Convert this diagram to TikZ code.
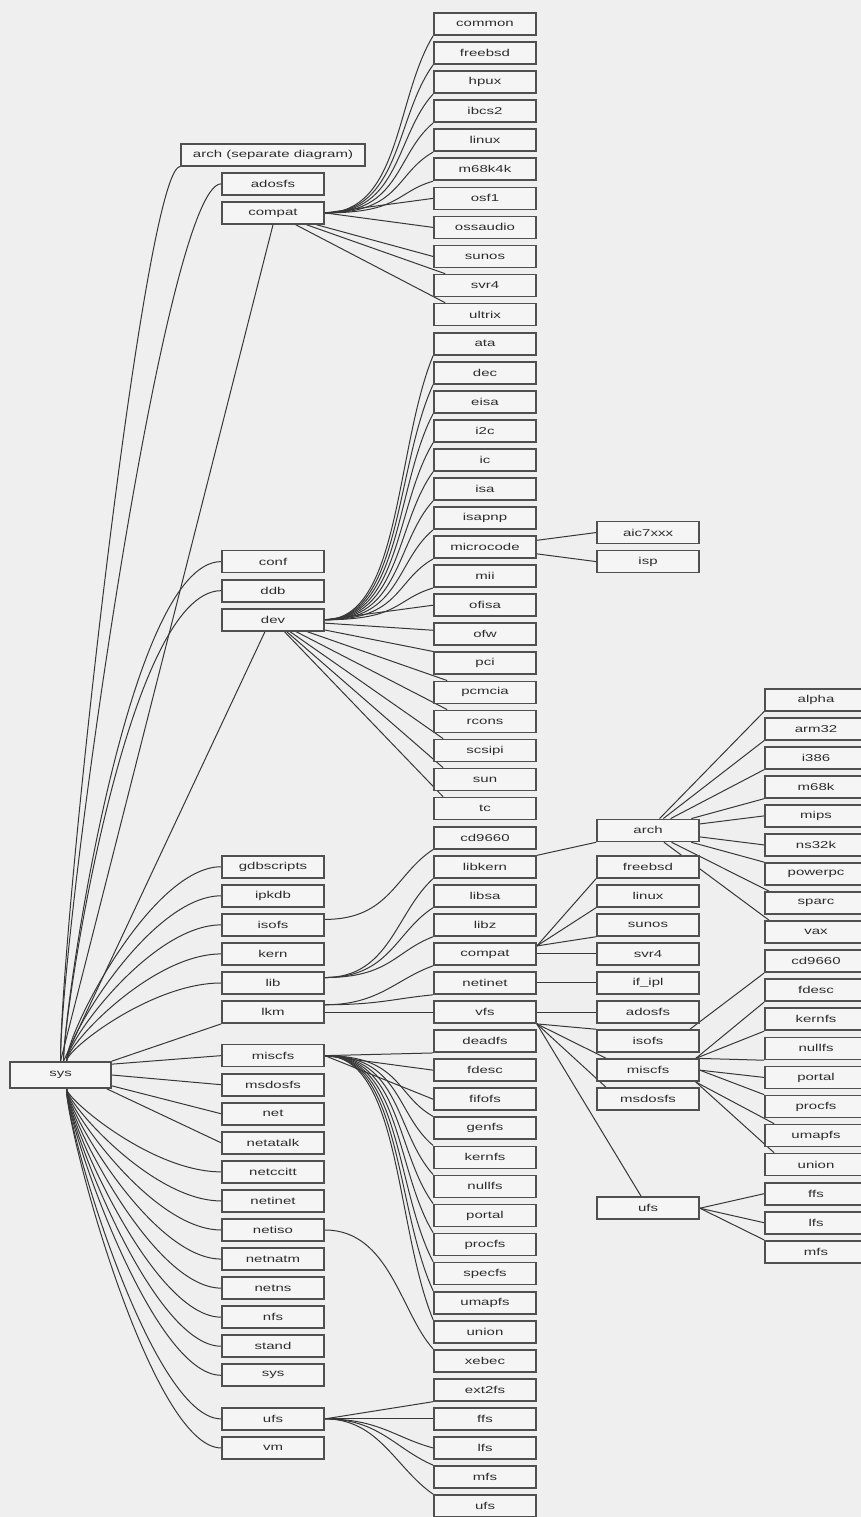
\documentclass[tikz,border=0pt]{standalone}
\usepackage{fontspec}
\newfontfamily\boxfont{Liberation Sans}[FakeStretch=1.5]
\usetikzlibrary{calc}
\pgfdeclarelayer{bg}
\pgfdeclarelayer{edges}
\pgfsetlayers{bg,edges,main}
\definecolor{bgc}{RGB}{239,239,239}
\definecolor{boxc}{RGB}{245,245,245}
\definecolor{linec}{RGB}{55,55,55}
\definecolor{bordc}{RGB}{80,80,80}
\definecolor{txtc}{RGB}{45,45,45}
% S-shaped connector: leaves horizontally, arrives along the chord
\newcommand\sCurveEdge[4]{\draw[edge] (#1) .. controls ($(#1)!#3!(#1 -| #2)$) and ($(#2)!#4!(#1)$) .. (#2);}
% corner-shaped connector: leaves vertically, arrives horizontally
\newcommand\cCurveEdge[4]{\draw[edge] (#1) .. controls ($(#1)!#3!(#1 |- #2)$) and ($(#2)!#4!(#1 |- #2)$) .. (#2);}
\begin{document}
\begin{tikzpicture}[x=1pt,y=-1pt,
  box/.style={draw=bordc, line width=1.7pt, fill=boxc, minimum width=102pt,
    minimum height=22pt, inner sep=0pt, text=txtc,
    font=\boxfont\fontsize{10}{11}\selectfont},
  edge/.style={draw=linec, line width=1pt}]
\path[use as bounding box] (0,0) rectangle (861,1517);
\begin{pgfonlayer}{bg}
\fill[bgc] (0,0) rectangle (861,1517);
\end{pgfonlayer}

% root
\node[box, minimum width=101pt, minimum height=26pt] (sys) at (60.5,1075) {sys};

% column 2
\node[box, minimum width=184pt] (s-arch) at (273,{24+29.06*4.5}) {arch (separate diagram)};
\foreach \n/\k in {adosfs/5.5,compat/6.5,conf/18.5,ddb/19.5,dev/20.5,gdbscripts/29,ipkdb/30,isofs/31,kern/32,lib/33,lkm/34,miscfs/35.5,msdosfs/36.5,net/37.5,netatalk/38.5,netccitt/39.5,netinet/40.5,netiso/41.5,netnatm/42.5,netns/43.5,nfs/44.5,stand/45.5,sys/46.5,ufs/48,vm/49}
  \node[box] (s-\n) at (273,{24+29.06*\k}) {\n};

% column 3
\foreach \n [count=\k from 0] in {common,freebsd,hpux,ibcs2,linux,m68k4k,osf1,ossaudio,sunos,svr4,ultrix,ata,dec,eisa,i2c,ic,isa,isapnp,microcode,mii,ofisa,ofw,pci,pcmcia,rcons,scsipi,sun,tc,cd9660,libkern,libsa,libz,compat,netinet,vfs,deadfs,fdesc,fifofs,genfs,kernfs,nullfs,portal,procfs,specfs,umapfs,union,xebec,ext2fs,ffs,lfs,mfs,ufs}
  \node[box] (x-\n) at (485,{24+29.06*\k}) {\n};

% column 4
\foreach \n/\k in {aic7xxx/17.5,isp/18.5,arch/27.75,freebsd/29,linux/30,sunos/31,svr4/32,adosfs/34,isofs/35,miscfs/36,msdosfs/37,ufs/40.75}
  \node[box] (y-\n) at (648,{24+29.06*\k}) {\n};
\node[box] (y-ifipl) at (648,{24+29.06*33}) {if\_ipl};

% column 5
\foreach \n [count=\i from 0] in {alpha,arm32,i386,m68k,mips,ns32k,powerpc,sparc,vax,cd9660,fdesc,kernfs,nullfs,portal,procfs,umapfs,union,ffs,lfs,mfs}
  \node[box] (z-\n) at (816,{24+29.06*(23.25+\i)}) {\n};

\begin{pgfonlayer}{edges}
% sys -> column 2
\cCurveEdge{sys.north}{s-arch.south west}{0.15}{0.3}
\cCurveEdge{sys.north}{s-adosfs.west}{0.15}{0.35}
\draw[edge] (sys.north) -- (s-compat.south);
\cCurveEdge{[xshift=3pt]sys.north}{s-conf.west}{0.1}{0.6}
\cCurveEdge{[xshift=3pt]sys.north}{s-ddb.west}{0.1}{0.6}
\draw[edge] ([xshift=3pt]sys.north) -- ([xshift=-8pt]s-dev.south);
\foreach \n in {gdbscripts,ipkdb,isofs,kern,lib} {\cCurveEdge{[xshift=6pt]sys.north}{s-\n.west}{0.15}{0.45}}
\draw[edge] (sys.north east) -- (s-lkm.south west);
\draw[edge] ([yshift=-3pt]sys.north east) -- (s-miscfs.west);
\draw[edge] (sys.east) -- (s-msdosfs.west);
\draw[edge] ([yshift=3pt]sys.south east) -- (s-net.west);
\draw[edge] ([xshift=-5pt]sys.south east) -- (s-netatalk.west);
\foreach \n in {netccitt,netinet,netiso,netnatm,netns,nfs,stand,sys,ufs,vm} {\cCurveEdge{[xshift=6pt]sys.south}{s-\n.west}{0.12}{0.45}}

% compat -> column 3
\foreach \n in {common,freebsd,hpux,ibcs2,linux,m68k4k} {\sCurveEdge{s-compat.east}{x-\n.south west}{0.7}{0.35}}
\draw[edge] (s-compat.east) -- (x-osf1.west);
\draw[edge] (s-compat.east) -- (x-ossaudio.west);
\draw[edge] (s-compat) -- (x-sunos.west);
\draw[edge] (s-compat) -- ([xshift=12pt]x-svr4.north west);
\draw[edge] (s-compat) -- ([xshift=12pt]x-ultrix.north west);

% dev -> column 3
\foreach \n in {ata,dec,eisa,i2c,ic,isa,isapnp,microcode,mii} {\sCurveEdge{s-dev.east}{x-\n.south west}{0.7}{0.35}}
\draw[edge] (s-dev.east) -- (x-ofisa.west);
\draw[edge] (s-dev) -- ([yshift=4pt]x-ofw.west);
\draw[edge] (s-dev) -- (x-pci.north west);
\foreach \n in {pcmcia,rcons} {\draw[edge] (s-dev) -- ([xshift=14pt]x-\n.north west);}
\foreach \n in {scsipi,sun,tc} {\draw[edge] (s-dev) -- ([xshift=10pt]x-\n.north west);}

% isofs, lib, lkm
\sCurveEdge{s-isofs.6}{x-cd9660.south west}{0.6}{0.35}
\foreach \n in {libkern,libsa,libz} {\sCurveEdge{s-lib.6}{x-\n.south west}{0.6}{0.35}}
\foreach \n in {compat,netinet} {\sCurveEdge{s-lkm.8}{x-\n.south west}{0.5}{0.35}}
\draw[edge] (s-lkm.east) -- (x-vfs.west);

% miscfs -> column 3
\draw[edge] (s-miscfs.east) -- (x-deadfs.south west);
\draw[edge] (s-miscfs.east) -- (x-fdesc.west);
\draw[edge] (s-miscfs.east) -- (x-fifofs.west);
\foreach \n in {genfs,kernfs,nullfs,portal,procfs,specfs,umapfs,union} {\sCurveEdge{s-miscfs.east}{x-\n.north west}{0.7}{0.35}}

% netiso, ufs
\sCurveEdge{s-netiso.east}{x-xebec.north west}{0.6}{0.3}
\draw[edge] (s-ufs.east) -- (x-ext2fs.south west);
\draw[edge] (s-ufs.east) -- (x-ffs.west);
\sCurveEdge{s-ufs.east}{x-lfs.west}{0.5}{0.35}
\foreach \n in {mfs,ufs} {\sCurveEdge{s-ufs.east}{x-\n.north west}{0.5}{0.35}}

% column 3 -> column 4
\draw[edge] (x-microcode) -- (y-aic7xxx.west);
\draw[edge] (x-microcode) -- (y-isp.west);
\draw[edge] (x-libkern) -- (y-arch.south west);
\foreach \n in {freebsd,linux,sunos} {\draw[edge] ([yshift=8pt]x-compat.east) -- (y-\n.south west);}
\draw[edge] (x-compat.east) -- (y-svr4.west);
\draw[edge] (x-netinet.east) -- (y-ifipl.west);
\draw[edge] (x-vfs.east) -- (y-adosfs.west);
\draw[edge] (x-vfs.south east) -- (y-isofs.north west);
\draw[edge] (x-vfs.south east) -- ([xshift=10pt]y-miscfs.north west);
\draw[edge] (x-vfs.south east) -- ([xshift=10pt]y-msdosfs.north west);
\draw[edge] (x-vfs.south east) -- ([xshift=45pt]y-ufs.north west);

% column 4 -> column 5
\foreach \n in {alpha,arm32,i386,m68k} {\draw[edge] (y-arch) -- (z-\n.south west);}
\foreach \n in {mips,ns32k} {\draw[edge] (y-arch) -- (z-\n.west);}
\draw[edge] (y-arch) -- (z-powerpc.north west);
\foreach \n in {sparc,vax} {\draw[edge] (y-arch) -- ([xshift=5pt]z-\n.north west);}
\draw[edge] ([xshift=-10pt]y-isofs.north east) -- (z-cd9660.south west);
\foreach \n in {fdesc,kernfs,nullfs} {\draw[edge] ([xshift=-4pt]y-miscfs.north east) -- (z-\n.south west);}
\draw[edge] (y-miscfs.east) -- (z-portal.west);
\draw[edge] (y-miscfs.east) -- (z-procfs.north west);
\foreach \n in {umapfs,union} {\draw[edge] ([xshift=-4pt]y-miscfs.south east) -- ([xshift=10pt]z-\n.north west);}
\draw[edge] (y-ufs.east) -- (z-ffs.west);
\draw[edge] (y-ufs.east) -- (z-lfs.west);
\draw[edge] (y-ufs.east) -- (z-mfs.north west);
\end{pgfonlayer}
\end{tikzpicture}
\end{document}
